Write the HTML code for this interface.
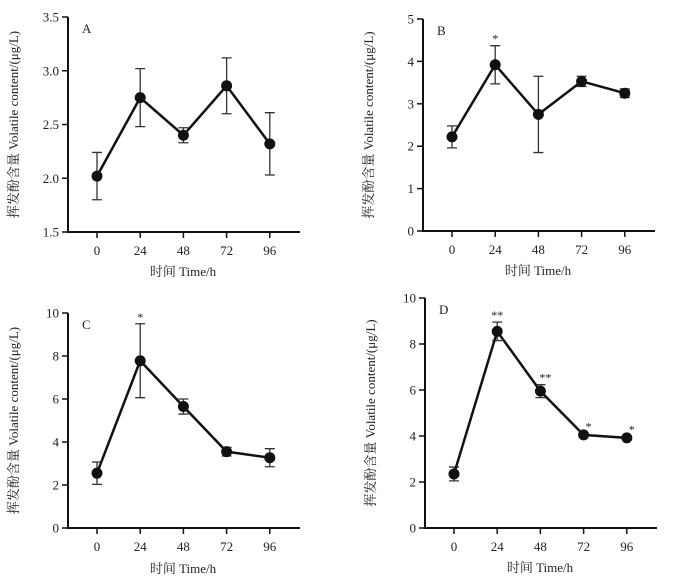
<!DOCTYPE html>
<html><head><meta charset="utf-8"><style>
body{margin:0;background:#fff;width:693px;height:581px;overflow:hidden}
svg text{font-family:"Liberation Serif","Noto Serif CJK SC",serif;fill:#222}
</style></head><body>
<svg id="fig" width="693" height="581" xmlns="http://www.w3.org/2000/svg"></svg>
<script>
const categories=["0","24","48","72","96"];
const seriesA=[2.02,2.75,2.40,2.86,2.32];
const errA=[0.22,0.27,0.07,0.26,0.29];
const seriesB=[2.22,3.92,2.75,3.53,3.25];
const errB=[0.26,0.45,0.90,0.12,0.10];
const seriesC=[2.55,7.78,5.65,3.55,3.27];
const errC=[0.52,1.72,0.35,0.2,0.42];
const seriesD=[2.35,8.55,5.95,4.05,3.92];
const errD=[0.3,0.4,0.28,0.06,0.06];
const ticksA=[1.5,2.0,2.5,3.0,3.5];
const ticksB=[0,1,2,3,4,5];
const ticksC=[0,2,4,6,8,10];
const ticksD=[0,2,4,6,8,10];
const starsA=["","","","",""];
const starsB=["","*","","",""];
const starsC=["","*","","",""];
const starsD=["","**","**","*","*"];
const NS="http://www.w3.org/2000/svg";
const svg=document.getElementById('fig');
function mk(tag,attrs,parent,txt){const e=document.createElementNS(NS,tag);for(const k in attrs)e.setAttribute(k,attrs[k]);if(txt!==undefined)e.textContent=txt;(parent||svg).appendChild(e);return e;}
function panel(id,ox,top,bottom,ticks,dec,vals,errs,stars,label,xlabY){
  const g=mk('g',{});
  
  
  const ymin=ticks[0],ymax=ticks[ticks.length-1];
  const y=v=>bottom-(v-ymin)/(ymax-ymin)*(bottom-top);
  const x=i=>ox+29+i*43.2;
  const ax=mk('path',{d:`M${ox},${top} V${bottom} H${ox+232}`,fill:'none',stroke:'#111','stroke-width':2},g);
  
  
  ticks.forEach(t=>{
    mk('line',{x1:ox-6,x2:ox,y1:y(t),y2:y(t),stroke:'#111','stroke-width':1.5},g);
    const tl=mk('text',{x:ox-9,y:y(t)+4.5,'text-anchor':'end','font-size':13},g,t.toFixed(dec));
    
    
  });
  categories.forEach((c,i)=>{
    mk('line',{x1:x(i),x2:x(i),y1:bottom,y2:bottom+6,stroke:'#111','stroke-width':1.5},g);
    const tl=mk('text',{x:x(i),y:bottom+23,'text-anchor':'middle','font-size':13},g,c);
    
    
  });
  vals.forEach((v,i)=>{
    const hi=y(v+errs[i]),lo=y(v-errs[i]);
    const eb=mk('path',{d:`M${x(i)},${hi}V${lo}M${x(i)-5},${hi}H${x(i)+5}M${x(i)-5},${lo}H${x(i)+5}`,stroke:'#333','stroke-width':1.3,fill:'none'},g);
    
    
  });
  const ln=mk('polyline',{points:vals.map((v,i)=>x(i)+','+y(v)).join(' '),fill:'none',stroke:'#111','stroke-width':2.5},g);
  
  
  vals.forEach((v,i)=>{
    const p=mk('circle',{cx:x(i),cy:y(v),r:5.5,fill:'#111'},g);
    
    
    if(stars[i]){
      const s=mk('text',{x:x(i)+(i>=2?5:0),y:y(v+errs[i])-3,'text-anchor':'middle','font-size':12},g,stars[i]);
      
      
    }
  });
  const pl=mk('text',{x:ox+14,y:top+16,'font-size':13},g,label);
  
  
  const xt=mk('text',{x:ox+115,y:xlabY,'text-anchor':'middle','font-size':13},g,'时间 Time/h');
  
  
  const cy=(top+bottom)/2, cx=ox-50;
  const yt=mk('text',{x:cx,y:cy,'text-anchor':'middle','font-size':13,transform:`rotate(-90 ${cx} ${cy})`},g,'挥发酚含量 Volatile content/(μg/L)');
  
  
}
panel('a',68,17,232,ticksA,1,seriesA,errA,starsA,'A',276);
panel('b',423,19,231,ticksB,0,seriesB,errB,starsB,'B',275);
panel('c',68,313,528,ticksC,0,seriesC,errC,starsC,'C',573);
panel('d',425,298,528,ticksD,0,seriesD,errD,starsD,'D',572);
</script>
</body></html>
